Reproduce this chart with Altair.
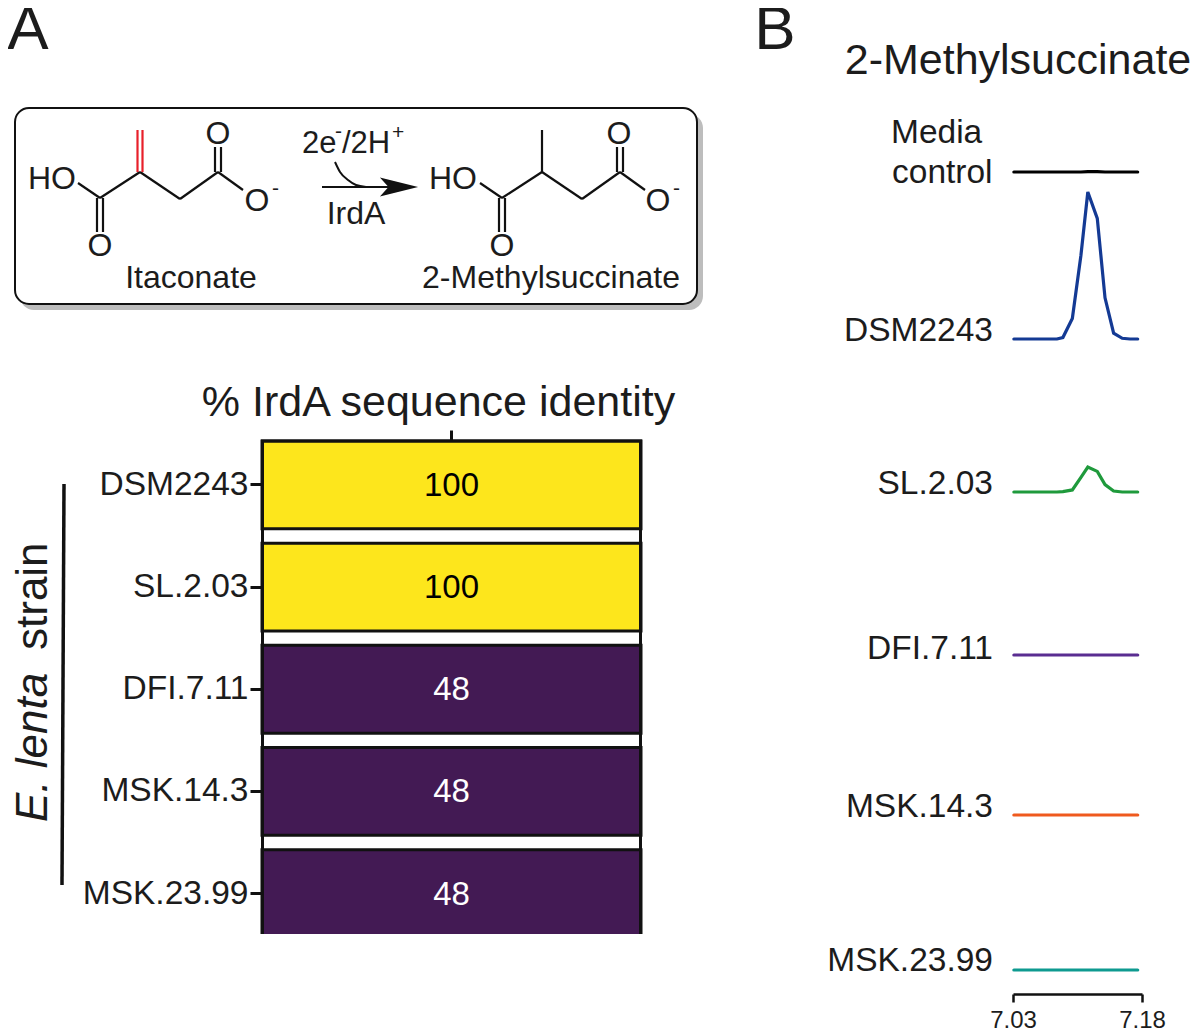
import altair as alt
import pandas as pd

FONT = "Liberation Sans"
INK = "#1c1c1c"

# --- heatmap values
strains = ["DSM2243", "SL.2.03", "DFI.7.11", "MSK.14.3", "MSK.23.99"]
identity = [100, 100, 48, 48, 48]
heat_col = ["% IrdA sequence identity"] * 5

# --- chromatogram traces
rt = [7.031, 7.04, 7.05, 7.06, 7.07, 7.081, 7.088, 7.099, 7.109, 7.117, 7.128, 7.137, 7.147, 7.157, 7.166, 7.175]
media = [0, 0, 0, 0, 0, 0, 0, 0, 0, 0.3, 0.3, 0, 0, 0, 0, 0]
dsm = [0, 0, 0, 0, 0, 0, 1, 14, 57, 100, 82, 28, 4, 0.5, 0, 0]
sl = [0, 0, 0, 0, 0, 0, 0.3, 1.4, 10, 17, 14, 5, 0.7, 0, 0, 0]
flat = [0] * 16
trace_names = ["Media control", "DSM2243", "SL.2.03", "DFI.7.11", "MSK.14.3", "MSK.23.99"]
trace_values = [media, dsm, sl, flat, flat, flat]
trace_colors = ["#000000", "#143a94", "#1f9a3c", "#5a2d91", "#ef5a1e", "#0e9a90"]
trace_base = [172, 339, 492, 655, 815, 970]

# --- diagram geometry (page units of the scheme)
black_bonds = [
    (78, 183, 100, 198), (100, 198, 140, 172), (140, 172, 180, 199), (180, 199, 218, 172), (218, 172, 243, 190),
    (97, 198, 97, 232), (103, 198, 103, 232), (215, 172, 215, 147), (221, 172, 221, 147),
    (480, 183, 502, 198), (502, 198, 542, 172), (542, 172, 582, 199), (582, 199, 620, 172), (620, 172, 645, 190),
    (499, 198, 499, 232), (505, 198, 505, 232), (617, 172, 617, 147), (623, 172, 623, 147), (542, 172, 542, 130),
    (322, 187, 392, 187),
]
red_bonds = [(137.5, 172, 137.5, 130), (142.5, 172, 142.5, 130)]
curve_x = [335, 340, 348, 356, 366]
curve_y = [162, 172, 180, 185, 187]

WIDTH, HEIGHT = 1184, 1024
cx = alt.Scale(domain=[0, 1192], range=[-8, WIDTH])
cy = alt.Scale(domain=[0, 1032], range=[-8, HEIGHT])


def X(f="x"):
    return alt.X(f"{f}:Q", scale=cx, axis=None, title=None)


def Y(f="y"):
    return alt.Y(f"{f}:Q", scale=cy, axis=None, title=None)


def bonds(rows, color, width):
    df = pd.DataFrame(rows, columns=["x", "y", "x2", "y2"])
    return alt.Chart(df).mark_rule(color=color, strokeWidth=width).encode(
        x=X(), y=Y(), x2="x2:Q", y2="y2:Q")


def box(x, x2, y, y2, **kw):
    df = pd.DataFrame({"x": [x], "x2": [x2], "y": [y], "y2": [y2]})
    return alt.Chart(df).mark_rect(**kw).encode(x=X(), y=Y(), x2="x2:Q", y2="y2:Q")


def label(rows, size, align="center", **kw):
    df = pd.DataFrame(rows, columns=["t", "x", "y"])
    return alt.Chart(df).mark_text(font=FONT, fontSize=size, align=align, baseline="middle",
                                   color=kw.pop("color", INK), **kw).encode(
        x=X(), y=Y(), text="t:N")


layers = []

# Scheme box
layers.append(box(20, 703, 114, 310, fill="#bdbdbd", cornerRadius=14))
layers.append(box(15, 697, 108, 304, fill="white", stroke="#111111", strokeWidth=2, cornerRadius=14))
layers.append(bonds(black_bonds, "#111111", 2.2))
layers.append(bonds(red_bonds, "#e8202a", 2.2))
layers.append(alt.Chart(pd.DataFrame({"x": curve_x, "y": curve_y})).mark_line(
    color="#111111", strokeWidth=2, interpolate="monotone").encode(x=X(), y=Y()))
layers.append(alt.Chart(pd.DataFrame({"x": [399], "y": [187]})).mark_point(
    shape="M-1,-0.5L1,0L-1,0.5L-0.55,0Z", size=1460, filled=True, fill="#111111", opacity=1, strokeWidth=0).encode(
    x=X(), y=Y()))

layers.append(label([("A", 28, 30), ("B", 775, 30)], 62))
layers.append(label([("2-Methylsuccinate", 1018, 61)], 43))
layers.append(label([("% IrdA sequence identity", 438.5, 403)], 43))
layers.append(label([
    ("HO", 52, 179), ("O", 100, 246), ("O", 218, 134), ("O", 257, 201), ("Itaconate", 191, 278),
    ("HO", 453, 179), ("O", 502, 246), ("O", 619, 134), ("O", 658, 201), ("2-Methylsuccinate", 551, 278),
    ("IrdA", 356, 214)], 32))
layers.append(label([("2e", 302, 144), ("/2H", 342, 144)], 31, align="left"))
layers.append(label([("-", 335, 132), ("+", 392, 133), ("-", 272, 189), ("-", 673, 189)], 21, align="left"))

# Heatmap, with real axes
heat = pd.DataFrame({"strain": strains, "col": heat_col, "pct": identity})
hy = alt.Scale(type="band", domain=strains, range=[433, 929.5], paddingInner=0.14, paddingOuter=0)
hx = alt.Scale(type="band", domain=heat_col[:1], range=[254, 633], padding=0)
layers.append(alt.Chart(heat).mark_rect(strokeWidth=3, stroke="#111111").encode(
    x=alt.X("col:N", scale=hx, title=None,
            axis=alt.Axis(orient="top", offset=-432, labels=False, domain=False, tickSize=10,
                          tickWidth=3, tickColor="#111111")),
    y=alt.Y("strain:N", scale=hy, title=None, sort=strains,
            axis=alt.Axis(orient="left", offset=-254, domain=False, tickSize=12, tickWidth=3,
                          tickColor="#111111", labelFont=FONT, labelFontSize=33.5, labelColor=INK,
                          labelPadding=2, labelFontWeight="normal")),
    color=alt.Color("pct:Q", legend=None, scale=alt.Scale(domain=[48, 100], range=["#431a54", "#fde61c"])),
))
layers.append(alt.Chart(heat).mark_text(font=FONT, fontSize=33, dy=1).encode(
    x=alt.X("col:N", scale=hx, axis=None, title=None),
    y=alt.Y("strain:N", scale=hy, axis=None, title=None, sort=strains),
    text="pct:Q",
    color=alt.condition(alt.datum.pct < 60, alt.value("white"), alt.value("black")),
))
# the reference's panel is trimmed at its lower edge
layers.append(box(258, 646, 934, 942, fill="white"))
layers.append(bonds([(262.5, 440, 262.5, 934), (640.5, 440, 640.5, 934), (261, 441, 642, 441)], "#111111", 3))

# Strain bracket and rotated title
layers.append(bonds([(64, 484, 62, 885)], "#111111", 3.5))
layers.append(label([("E. lenta", 34, 822)], 44, align="left", angle=270, fontStyle="italic"))
layers.append(label([("strain", 34, 650)], 44, align="left", angle=270))

# Chromatograms
rt_range = [1013 - 8, 1142 - 8]
for i, (name, vals, col, base) in enumerate(zip(trace_names, trace_values, trace_colors, trace_base)):
    df = pd.DataFrame({"rt": rt, "intensity": vals})
    axis = None
    if i == len(trace_names) - 1:
        axis = alt.Axis(orient="bottom", offset=-38, values=[7.03, 7.18], format=".2f", tickSize=8,
                        tickWidth=2.5, domainWidth=2.5, domainColor="#111111", tickColor="#111111",
                        labelFont=FONT, labelFontSize=24, labelColor=INK, labelPadding=6, grid=False,
                        labelFlush=False, labelOverlap=False)
    layers.append(alt.Chart(df).mark_line(color=col, strokeWidth=3.2, strokeCap="round").encode(
        x=alt.X("rt:Q", scale=alt.Scale(domain=[7.03, 7.18], range=rt_range), axis=axis, title=None),
        y=alt.Y("intensity:Q", scale=alt.Scale(domain=[0, 100], range=[base - 8, base - 8 - 147]),
                axis=None, title=None),
    ))

layers.append(label([("DSM2243", 993, 331), ("SL.2.03", 993, 484), ("DFI.7.11", 993, 649),
                     ("MSK.14.3", 993, 807), ("MSK.23.99", 993, 961)], 33.5, align="right"))
layers.append(label([("Media", 891, 133), ("control", 892, 173)], 33.5, align="left"))

chart = alt.layer(*layers).resolve_scale(
    x="independent", y="independent", color="independent").properties(
    width=WIDTH, height=HEIGHT, padding=0, background="white",
    autosize=alt.AutoSizeParams(type="none", contains="padding"),
).configure_view(stroke=None)

chart.save("out.html", embed_options={"renderer": "svg", "actions": False})
